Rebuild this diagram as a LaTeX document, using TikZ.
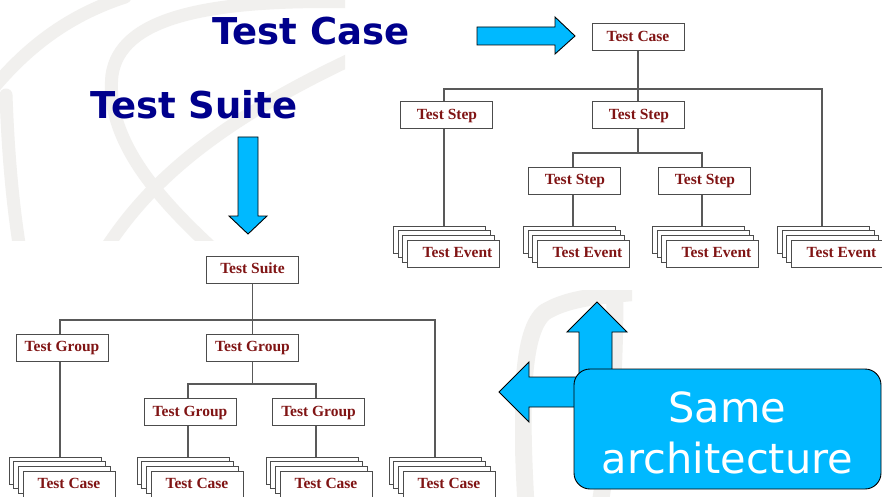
\documentclass[tikz,border=0pt]{standalone}
\usepackage{fontspec}
\setmainfont{Liberation Serif}
\newfontfamily\titlefont{DejaVu Sans}
\definecolor{navy}{RGB}{0,0,140}
\definecolor{treered}{RGB}{128,20,20}
\definecolor{arrowblue}{RGB}{0,185,255}
\definecolor{wm}{RGB}{241,240,238}
\tikzset{
  box/.style={draw=black!70, line width=1pt, fill=white, minimum width=92pt,
    minimum height=27pt, inner sep=0pt, text height=11pt, text depth=3pt,
    font=\bfseries\fontsize{15.5}{17}\selectfont, text=treered},
  conn/.style={draw=black!65, line width=1.1pt},
  bigarrow/.style={fill=arrowblue, draw=black, line width=0.9pt, line join=miter},
  wmband/.style={draw=wm, line width=13pt, line cap=round},
  title/.style={anchor=base west, inner sep=0pt, text=navy,
    font=\titlefont\bfseries\fontsize{37}{40}\selectfont},
  bigtext/.style={anchor=base, inner sep=0pt, text=white,
    font=\titlefont\fontsize{41.5}{50}\selectfont}
}
% name, back centre x, back centre y, text
\newcommand\boxstack[4]{%
  \node[box] (#1a) at (#2,#3) {};
  \node[box] (#1b) at (#2+4.67,#3+4.67) {};
  \node[box] (#1c) at (#2+9.33,#3+9.33) {};
  \node[box] (#1) at (#2+14,#3+14) {#4};
}
\begin{document}
\begin{tikzpicture}[x=1pt,y=-1pt]
\useasboundingbox (0,0) rectangle (882,497);
\fill[white] (0,0) rectangle (882,497);

% watermark
\begin{scope}
  \clip (0,0) rectangle (345,240);
  \draw[wmband] (-5,86) .. controls (30,45) and (70,15) .. (125,-3);
  \draw[wmband] (360,2) .. controls (200,-2) and (120,20) .. (112,75)
                .. controls (105,140) and (160,200) .. (212,248);
  \draw[wmband] (6,95) .. controls (8,150) and (12,200) .. (20,250);
  \draw[wmband] (105,250) .. controls (150,180) and (220,120) .. (360,55);
\end{scope}
\begin{scope}
  \clip (515,290) rectangle (632,497);
  \draw[wmband, line width=17pt] (526,505) .. controls (520,400) and (522,330) .. (545,312)
                .. controls (565,300) and (590,296) .. (640,292);
  \draw[wmband, line width=17pt] (615,285) .. controls (615,380) and (610,440) .. (600,505);
\end{scope}

% titles
\node[title] (ttc) at (212,44.5) {Test Case};
\node[title] (tts) at (90.5,119) {Test Suite};

% arrows
\draw[bigarrow] (477,27) -- (555,27) -- (555,17) -- (575,36) -- (555,54)
  -- (555,45) -- (477,45) -- cycle;
\draw[bigarrow] (238,137) -- (258,137) -- (258,216) -- (267,216) -- (248,234)
  -- (229,216) -- (238,216) -- cycle;

% Test case tree
\node[box] (tc) at (638,37.5) {Test Case};
\node[box] (ts1) at (446,115.5) {\hspace*{2pt}Test Step};
\node[box] (ts2) at (638,115.5) {\hspace*{2pt}Test Step};
\node[box] (ts3) at (574,180.5) {\hspace*{2pt}Test Step};
\node[box] (ts4) at (704,180.5) {\hspace*{2pt}Test Step};
\boxstack{evA}{439.5}{239.5}{\hspace*{8pt}Test Event}
\boxstack{evB}{569.5}{239.5}{\hspace*{8pt}Test Event}
\boxstack{evC}{698.5}{239.5}{\hspace*{8pt}Test Event}
\boxstack{evD}{823.5}{239.5}{\hspace*{8pt}Test Event}

\coordinate (busA) at (638,89);
\coordinate (busAe) at (822,89);
\coordinate (busB) at (638,153);
\coordinate (lA) at (444,0);
\coordinate (lB) at (573,0);
\coordinate (lC) at (702,0);
\draw[conn] (tc.south) -- (ts2.north);
\draw[conn] (lA |- ts1.north) |- (busAe) -- (busAe |- evDa.north);
\draw[conn] (ts2.south) -- (busB);
\draw[conn] (lB |- ts3.north) |- (busB) -| (lC |- ts4.north);
\draw[conn] (lA |- ts1.south) -- (lA |- evAa.north);
\draw[conn] (lB |- ts3.south) -- (lB |- evBa.north);
\draw[conn] (lC |- ts4.south) -- (lC |- evCa.north);

% Test suite tree
\node[box] (suite) at (252.5,269.5) {Test Suite};
\node[box] (tg1) at (62,347.5) {Test Group};
\node[box] (tg2) at (252.5,347.5) {Test Group};
\node[box] (tg3) at (190,412) {Test Group};
\node[box] (tg4) at (318.5,412) {Test Group};
\boxstack{csA}{55}{470.5}{Test Case}
\boxstack{csB}{183}{470.5}{Test Case}
\boxstack{csC}{312}{470.5}{Test Case}
\boxstack{csD}{435}{470.5}{Test Case}

\coordinate (busCe) at (435,320);
\coordinate (busD) at (252.5,384);
\coordinate (lD) at (60,0);
\coordinate (lE) at (188,0);
\coordinate (lF) at (316,0);
\draw[conn] (suite.south) -- (tg2.north);
\draw[conn] (lD |- tg1.north) |- (busCe) -- (busCe |- csDa.north);
\draw[conn] (tg2.south) -- (busD);
\draw[conn] (lE |- tg3.north) |- (busD) -| (lF |- tg4.north);
\draw[conn] (lD |- tg1.south) -- (lD |- csAa.north);
\draw[conn] (lE |- tg3.south) -- (lE |- csBa.north);
\draw[conn] (lF |- tg4.south) -- (lF |- csCa.north);

% cross arrow and label
\draw[bigarrow] (499,392) -- (529,362) -- (529,377) -- (579,377) -- (579,332)
  -- (567,332) -- (597,302) -- (627,332) -- (612,332) -- (612,407)
  -- (529,407) -- (529,422) -- cycle;
\node[draw=black, line width=0.9pt, fill=arrowblue, rounded corners=16pt,
  minimum width=307pt, minimum height=120pt, inner sep=0pt] (same) at (727.5,429) {};
\node[bigtext] (sameA) at (727.5,422) {Same};
\node[bigtext] (sameB) at (727.5,473) {architecture};
\end{tikzpicture}
\end{document}
